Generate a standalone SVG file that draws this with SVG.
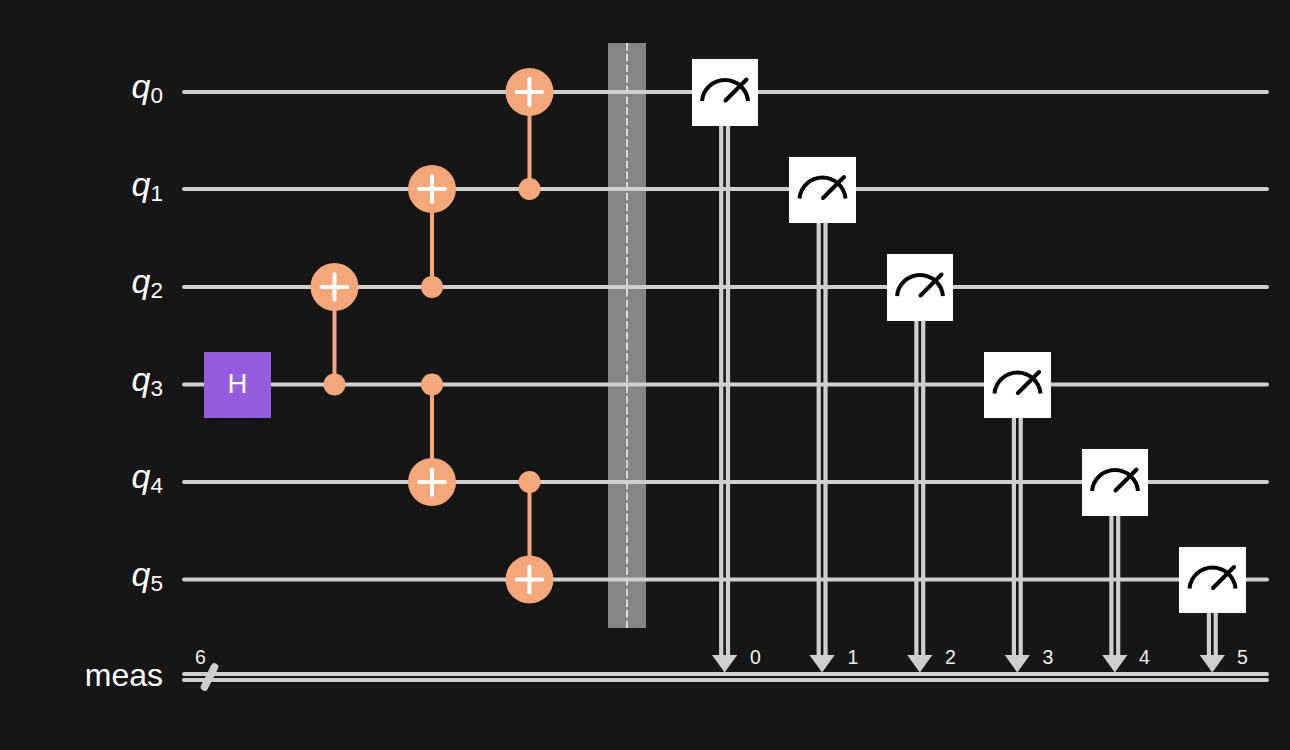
<svg xmlns="http://www.w3.org/2000/svg" width="1290" height="750" viewBox="0 0 1290 750">
<defs>
<style>
.w{stroke:#cfcfcf;stroke-width:4;fill:none;stroke-linecap:round}
.c{stroke:#f5a77c;stroke-width:4;fill:none}
.o{fill:#f5a77c}
.p{stroke:#fff;stroke-width:4;stroke-linecap:round;fill:none}
.l{font-family:"Liberation Sans",Arial,sans-serif;fill:#fff}
.q{font-size:34px;font-style:italic;text-anchor:end}
.s{font-size:22.5px;font-style:normal}
.n{font-family:"Liberation Sans",Arial,sans-serif;fill:#f0f0f0;font-size:19.500px}
.m{fill:#fff}
.k{fill:none;stroke:#000;stroke-width:4}
.r{stroke-linecap:round}
.a{fill:#cfcfcf}
</style>
<g id="plus"><circle r="24" class="o"/><path class="p" d="M-12.8 0H12.8M0-12.8V12.8"/></g>
<g id="meter"><path class="k" d="M-23 8.500A23.100 23.100 0 0 1 23 8.500"/><path class="k r" d="M0.500 8L21.500-13"/></g>
<g id="arrow"><path class="a" d="M-12.6 655H12.6L0 672.5Z"/></g>
</defs>
<rect id="background" width="1290" height="750" fill="#161616"/>
<g id="barrier"><rect x="608" y="43" width="38" height="585" fill="#858585"/></g>
<g id="connectors">
<path class="w" d="M184 92H1267M184 189H1267M184 287H1267M184 384.500H1267M184 482H1267M184 579.500H1267"/>
<path class="w" d="M184 674H1267M184 680H1267"/>
<path class="c" d="M529.500 92V189M432 189V287M334.500 287V384.500M432 384.500V482M529.500 482V579.500"/>
<g fill="none" stroke="#cfcfcf" stroke-width="4.200">
<path d="M721.200 125V658M728 125V658"/>
<path d="M818.700 222V658M825.500 222V658"/>
<path d="M916.400 320V658M923.200 320V658"/>
<path d="M1013.900 417V658M1020.700 417V658"/>
<path d="M1111.400 515V658M1118.200 515V658"/>
<path d="M1208.900 612V658M1215.700 612V658"/>
</g>
<use href="#arrow" x="724.600"/><use href="#arrow" x="822.100"/><use href="#arrow" x="919.800"/><use href="#arrow" x="1017.300"/><use href="#arrow" x="1114.800"/><use href="#arrow" x="1212.300"/>
<path d="M204.500 687L214.500 667" stroke="#cfcfcf" stroke-width="7.500" stroke-linecap="round" fill="none"/>
<path d="M627 43V628" stroke="#d8d8d8" stroke-width="2" stroke-dasharray="7.500 3.200" fill="none"/>
</g>
<g id="label-q0"><text class="l q" x="163" y="98">q<tspan class="s" dy="5">0</tspan></text></g>
<g id="label-q1"><text class="l q" x="163" y="195.500">q<tspan class="s" dy="5">1</tspan></text></g>
<g id="label-q2"><text class="l q" x="163" y="293">q<tspan class="s" dy="5">2</tspan></text></g>
<g id="label-q3"><text class="l q" x="163" y="390.500">q<tspan class="s" dy="5">3</tspan></text></g>
<g id="label-q4"><text class="l q" x="163" y="488">q<tspan class="s" dy="5">4</tspan></text></g>
<g id="label-q5"><text class="l q" x="163" y="585.500">q<tspan class="s" dy="5">5</tspan></text></g>
<g id="label-meas"><text class="l" font-size="32" text-anchor="end" x="163" y="686">meas</text></g>
<g id="label-6"><text class="n" x="195" y="664">6</text></g>
<g id="h"><rect x="204" y="352" width="67" height="66" fill="#945cde"/><text class="l" font-size="27.500" text-anchor="middle" x="237.500" y="393">H</text></g>
<g id="cx-2-3"><use href="#plus" x="334.500" y="287"/><circle class="o" cx="334.500" cy="384.500" r="11"/></g>
<g id="cx-2-1"><use href="#plus" x="432" y="189"/><circle class="o" cx="432" cy="287" r="11"/></g>
<g id="cx-3-4"><use href="#plus" x="432" y="482"/><circle class="o" cx="432" cy="384.500" r="11"/></g>
<g id="cx-1-0"><use href="#plus" x="529.500" y="92"/><circle class="o" cx="529.500" cy="189" r="11"/></g>
<g id="cx-4-5"><use href="#plus" x="529.500" y="579.500"/><circle class="o" cx="529.500" cy="482" r="11"/></g>
<g id="m0"><rect class="m" x="692" y="59" width="66" height="67"/><use href="#meter" x="725" y="92.500"/><text class="n" x="750" y="664">0</text></g>
<g id="m1"><rect class="m" x="789" y="157" width="67" height="66"/><use href="#meter" x="822.500" y="190"/><text class="n" x="847.500" y="664">1</text></g>
<g id="m2"><rect class="m" x="887" y="254" width="66" height="67"/><use href="#meter" x="920" y="287.500"/><text class="n" x="945" y="664">2</text></g>
<g id="m3"><rect class="m" x="984" y="352" width="67" height="66"/><use href="#meter" x="1017.500" y="385"/><text class="n" x="1042.500" y="664">3</text></g>
<g id="m4"><rect class="m" x="1082" y="449" width="66" height="67"/><use href="#meter" x="1115" y="482.500"/><text class="n" x="1139" y="664">4</text></g>
<g id="m5"><rect class="m" x="1179" y="547" width="67" height="66"/><use href="#meter" x="1212.500" y="580"/><text class="n" x="1237" y="664">5</text></g>
</svg>
